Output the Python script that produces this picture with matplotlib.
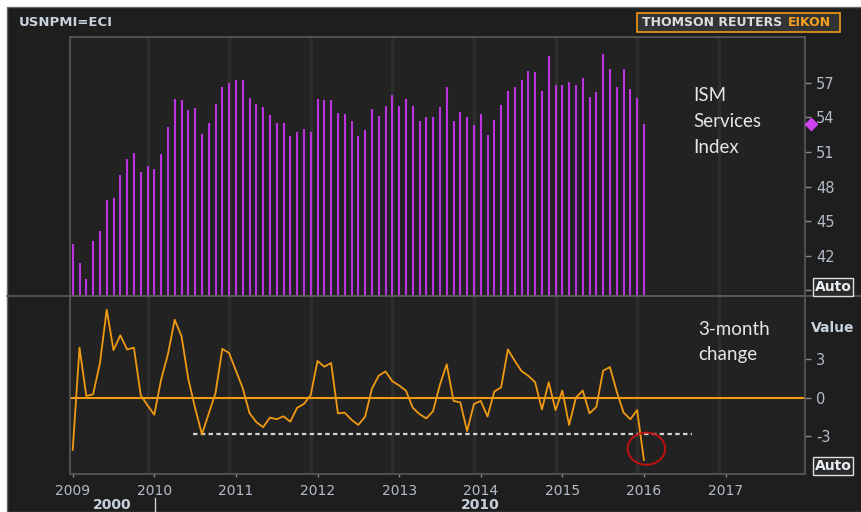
import matplotlib
matplotlib.use("Agg")
import matplotlib.pyplot as plt
import numpy as np
from matplotlib.patches import Rectangle, Ellipse
from matplotlib.lines import Line2D

# ISM services index, monthly from Jan 2009 to Jan 2016
start_year = 2009
ism = [43.0, 41.4, 40.0, 43.3, 44.1, 46.8, 47.0, 49.0, 50.4, 50.9, 49.3, 49.8,
       49.5, 50.8, 53.2, 55.6, 55.5, 54.6, 54.8, 52.6, 53.5, 55.2, 56.6, 57.0,
       57.2, 57.2, 55.7, 55.2, 54.9, 54.2, 53.5, 53.5, 52.4, 52.7, 53.0, 52.7,
       55.6, 55.5, 55.5, 54.4, 54.3, 53.7, 52.4, 52.9, 54.7, 54.1, 55.0, 55.9,
       55.0, 55.6, 55.0, 53.7, 54.0, 54.0, 54.9, 56.6, 53.7, 54.5, 54.0, 53.3,
       54.3, 52.5, 53.8, 55.1, 56.3, 56.6, 57.2, 58.0, 57.9, 56.3, 59.3, 56.8,
       56.8, 57.1, 56.8, 57.4, 55.8, 56.2, 59.5, 58.2, 56.6, 58.2, 56.5, 55.7,
       53.4]

# 3-month change
chg = [-4.07, 3.89, 0.13, 0.26, 2.67, 6.85, 3.7, 4.85, 3.75, 3.89, 0.2, -0.6,
       -1.33, 1.4, 3.37, 6.06, 4.78, 1.45, -0.8, -2.85, -1.25, 0.35, 3.8, 3.47,
       2.1, 0.75, -1.2, -1.9, -2.3, -1.55, -1.68, -1.45, -1.87, -0.79, -0.49, 0.2,
       2.86, 2.41, 2.7, -1.22, -1.17, -1.72, -2.12, -1.48, 0.7, 1.71, 2.04, 1.28,
       0.95, 0.55, -0.78, -1.28, -1.62, -1.04, 1.0, 2.6, -0.25, -0.37, -2.6, -0.5,
       -0.25, -1.47, 0.48, 0.8, 3.75, 2.87, 2.07, 1.7, 1.2, -0.92, 1.2, -0.97,
       0.55, -2.13, 0.0, 0.55, -1.22, -0.73, 2.1, 2.38, 0.48, -1.15, -1.68, -0.97,
       -4.85]

years = list(range(2009, 2018))
ism_ticks = [42, 45, 48, 51, 54, 57]
chg_ticks = [-3, 0, 3]
support_level = -2.8
support_span = (2010.47, 2016.59)

dates = start_year + np.arange(len(ism)) / 12.0

W, H = 862, 512
def fx(px):
    return px / W
def fy(py):
    return 1 - py / H

bg = '#1e1e1e'
plot_bg = '#222222'
frame = '#5a5a5a'
grid_c = '#2e2e2e'
label_c = '#b4bcc8'
magenta = '#bb33dd'
orange = '#f09a12'

fig = plt.figure(figsize=(8.62, 5.12), dpi=100, facecolor='white')
fig.patches.append(Rectangle((fx(7), 0), 1 - fx(7), fy(7), transform=fig.transFigure,
                             facecolor=bg, edgecolor='#6a6a6a', lw=1, zorder=-10))

left, right = fx(70.5), fx(805)
ax1 = fig.add_axes([left, fy(296), right - left, fy(36.7) - fy(296)])
ax2 = fig.add_axes([left, fy(474), right - left, fy(296) - fy(474)])

xlim = (2008.973, 2017.974)
for ax in (ax1, ax2):
    ax.set_zorder(2)
    ax.set_facecolor(plot_bg)
    ax.set_xlim(*xlim)
    for s in ax.spines.values():
        s.set_color(frame)
        s.set_linewidth(1.2)
    for y in years[:-1]:
        ax.axvline(y + 11 / 12, color=grid_c, lw=2.5, zorder=0)
    ax.yaxis.tick_right()
    ax.tick_params(axis='y', colors='#8a8a8a', labelcolor=label_c, direction='out',
                   length=4, width=1, pad=4, labelsize=10.5)

# top panel: bars (thin stems)
ax1.set_ylim(38.5, 61.0)
ax1.vlines(dates, 38.5, ism, color=magenta, lw=1.5, zorder=3)
ax1.set_yticks([39] + ism_ticks)
ax1.set_yticklabels([''] + [str(t) for t in ism_ticks])
ax1.set_xticks([])
ax1.plot([2018.05], [ism[-1]], marker='D', color='#cc44ee', markersize=6, clip_on=False, zorder=5)
ax1.text(2016.60, 56.65, 'ISM\nServices\nIndex', color='#e6e6e6', fontsize=13.5,
         family='Lato', va='top', ha='left', linespacing=1.65)

# bottom panel: 3-month change line
ax2.axhline(0, color=orange, lw=1.5, zorder=2)
ax2.plot(dates, chg, color=orange, lw=1.3, zorder=3)
ax2.plot(support_span, [support_level, support_level], color='#d4d4d4', lw=1.6,
         linestyle=(0, (2, 1.5)), zorder=2)
ax2.add_patch(Ellipse((2016.03, -3.97), 0.46, 2.5, fill=False, edgecolor='#c01010', lw=1.4, zorder=4))
ax2.set_ylim(-5.94, 7.91)
ax2.set_yticks(chg_ticks)
ax2.set_yticklabels([str(t) for t in chg_ticks])
ax2.set_xticks(years)
ax2.set_xticklabels([str(y) for y in years])
ax2.tick_params(axis='x', colors='#8a8a8a', labelcolor=label_c, direction='out',
                length=2.5, width=1, pad=5, labelsize=10)
ax2.text(2016.66, 6.0, '3-month\nchange', color='#e6e6e6', fontsize=13.5,
         family='Lato', va='top', ha='left', linespacing=1.6)

# separator across the whole panel
fig.lines.append(Line2D([fx(7), 1], [fy(296), fy(296)], transform=fig.transFigure,
                        color=frame, lw=1.2, zorder=3))

# header
fig.text(fx(19), fy(22), 'USNPMI=ECI', color='#c8d2dc', fontsize=9.5,
         fontweight='bold', va='center', ha='left')
fig.patches.append(Rectangle((fx(637), fy(32)), fx(840) - fx(637), fy(13) - fy(32),
                             transform=fig.transFigure, facecolor='#333333',
                             edgecolor='#f09a12', lw=1.2))
fig.text(fx(642), fy(22.5), 'THOMSON REUTERS', color='#dcdcdc', fontsize=9,
         fontweight='bold', va='center', ha='left')
fig.text(fx(788), fy(22.5), 'EIKON', color='#f5a020', fontsize=9,
         fontweight='bold', va='center', ha='left')

# right-hand axis boxes and labels
box = dict(boxstyle='square,pad=0.12', facecolor='#2a2a2a', edgecolor='#e0e0e0', lw=1)
fig.text(fx(833), fy(287), 'Auto', color='#e8eef4', fontsize=10, fontweight='bold',
         ha='center', va='center', bbox=box, zorder=5)
fig.text(fx(833), fy(466), 'Auto', color='#e8eef4', fontsize=10, fontweight='bold',
         ha='center', va='center', bbox=box, zorder=5)
fig.text(fx(833), fy(328), 'Value', color='#c8d2dc', fontsize=10, fontweight='bold',
         ha='center', va='center')

# decade row under the year labels
fig.text(fx(112), fy(505), '2000', color='#c8d2dc', fontsize=10, fontweight='bold',
         ha='center', va='center')
fig.text(fx(480), fy(505), '2010', color='#c8d2dc', fontsize=10, fontweight='bold',
         ha='center', va='center')
fig.lines.append(Line2D([fx(155), fx(155)], [fy(498), 0], transform=fig.transFigure,
                        color='#c8d2dc', lw=1))

fig.savefig('out.png', dpi=100, facecolor=fig.get_facecolor())
